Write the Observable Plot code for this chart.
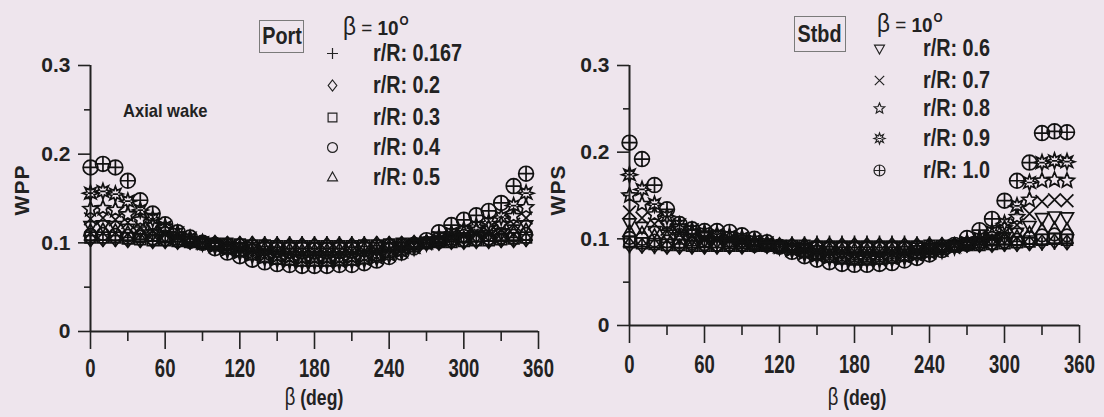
<!DOCTYPE html>
<html>
<head>
<meta charset="utf-8">
<script src="https://cdn.jsdelivr.net/npm/d3@7"></script>
<script src="https://cdn.jsdelivr.net/npm/@observablehq/plot@0.6"></script>
<style>
  body { margin: 0; background: #eee5ed; }
  #wrap { position: relative; width: 1104px; height: 417px; background: #eee5ed; overflow: hidden;
          font-family: "Liberation Sans", Arial, sans-serif; color: #222; }
  .abs { position: absolute; white-space: nowrap; line-height: 1; }
  .sq { transform-origin: left center; }
  .box { position: absolute; border: 1px solid #7a7a7a; box-sizing: border-box; display: flex;
         align-items: center; justify-content: center; font-weight: bold; font-size: 23px; }
  .box span { display: inline-block; transform: scaleX(0.86); }
</style>
</head>
<body>
<div id="wrap"></div>
<script>
// ---------------- data ----------------
const beta = [0,10,20,30,40,50,60,70,80,90,100,110,120,130,140,150,160,170,
              180,190,200,210,220,230,240,250,260,270,280,290,300,310,320,330,340,350];
const radii = ["0.167","0.2","0.3","0.4","0.5","0.6","0.7","0.8","0.9","1.0"];
const xTicks = [0,60,120,180,240,300,360];
const xMinor = [30,90,150,210,270,330];
const yTicks = [0,0.1,0.2,0.3];
const yMinor = [0.05,0.15,0.25];

// Port (WPP)
const port_r0167 = [.103,.103,.103,.103,.102,.102, .102,.101,.101,.101,.100,.100, .100,.100,.100,.100,.100,.100,
                    .100,.100,.100,.100,.100,.100, .100,.100,.100,.100,.101,.101, .101,.102,.102,.102,.103,.103];
const port_r0200 = [.104,.104,.104,.103,.103,.102, .102,.101,.101,.100,.100,.099, .099,.099,.098,.098,.098,.098,
                    .098,.098,.098,.098,.098,.099, .099,.099,.100,.100,.100,.101, .101,.102,.102,.103,.103,.104];
const port_r0300 = [.106,.106,.106,.105,.104,.103, .103,.102,.101,.100,.099,.099, .098,.097,.097,.096,.096,.096,
                    .096,.096,.096,.096,.097,.097, .098,.099,.099,.100,.101,.101, .102,.103,.103,.104,.105,.106];
const port_r0400 = [.109,.110,.109,.108,.107,.105, .104,.102,.101,.100,.099,.098, .097,.096,.095,.094,.094,.094,
                    .093,.093,.094,.094,.095,.096, .097,.098,.099,.100,.101,.102, .103,.104,.105,.106,.108,.110];
const port_r0500 = [.113,.114,.113,.111,.109,.107, .105,.103,.101,.100,.098,.097, .095,.094,.093,.092,.092,.091,
                    .091,.091,.092,.092,.093,.094, .096,.097,.099,.100,.102,.103, .105,.106,.107,.108,.111,.114];
const port_r0600 = [.119,.120,.119,.116,.113,.110, .107,.104,.102,.100,.098,.096, .094,.093,.091,.090,.089,.089,
                    .089,.089,.089,.090,.091,.092, .094,.096,.098,.100,.102,.104, .106,.107,.109,.111,.115,.120];
const port_r0700 = [.127,.128,.126,.123,.118,.114, .110,.106,.103,.100,.098,.095, .093,.091,.089,.088,.087,.086,
                    .086,.086,.086,.087,.088,.090, .092,.094,.097,.100,.103,.106, .108,.110,.112,.115,.121,.128];
const port_r0800 = [.138,.139,.137,.132,.126,.120, .114,.109,.104,.100,.097,.094, .091,.089,.087,.085,.084,.083,
                    .083,.083,.083,.084,.085,.087, .089,.092,.096,.100,.104,.108, .111,.114,.117,.121,.130,.140];
const port_r0900 = [.156,.158,.155,.147,.137,.127, .118,.111,.105,.100,.096,.092, .089,.086,.083,.081,.080,.079,
                    .079,.079,.079,.080,.081,.083, .086,.090,.095,.100,.106,.111, .115,.119,.123,.129,.142,.156];
const port_r1000 = [.185,.189,.185,.170,.148,.133, .121,.112,.106,.100,.094,.089, .085,.081,.078,.076,.075,.074,
                    .074,.074,.075,.075,.077,.080, .084,.089,.095,.103,.112,.120, .126,.131,.136,.145,.164,.178];

// Starboard (WPS)
const stbd_r0167 = [.091,.091,.090,.090,.090,.090, .090,.090,.091,.091,.092,.093, .094,.095,.095,.096,.096,.096,
                    .096,.096,.096,.096,.096,.095, .095,.094,.094,.093,.093,.093, .093,.093,.094,.094,.095,.095];
const stbd_r0200 = [.093,.092,.092,.091,.091,.091, .091,.091,.091,.091,.092,.092, .092,.093,.093,.093,.093,.093,
                    .093,.093,.093,.093,.093,.093, .093,.093,.093,.093,.093,.093, .094,.094,.095,.096,.097,.096];
const stbd_r0300 = [.096,.095,.094,.093,.093,.092, .092,.092,.092,.092,.092,.092, .092,.092,.092,.091,.091,.091,
                    .091,.091,.091,.091,.091,.091, .092,.092,.092,.093,.093,.094, .095,.096,.097,.099,.100,.099];
const stbd_r0400 = [.101,.100,.098,.097,.096,.095, .094,.093,.093,.093,.092,.092, .091,.091,.090,.090,.089,.089,
                    .089,.089,.089,.089,.089,.090, .090,.091,.092,.093,.094,.095, .097,.099,.101,.104,.105,.104];
const stbd_r0500 = [.108,.106,.103,.101,.099,.097, .096,.095,.094,.094,.093,.092, .091,.090,.089,.088,.088,.087,
                    .087,.087,.087,.087,.088,.088, .089,.090,.091,.093,.095,.097, .099,.102,.106,.110,.111,.110];
const stbd_r0600 = [.118,.114,.109,.105,.102,.100, .098,.097,.096,.095,.094,.092, .091,.089,.088,.087,.086,.085,
                    .085,.085,.085,.085,.086,.087, .088,.090,.092,.094,.096,.099, .102,.107,.115,.124,.126,.125];
const stbd_r0700 = [.131,.124,.117,.111,.106,.103, .101,.100,.099,.097,.095,.093, .091,.089,.087,.085,.084,.083,
                    .082,.082,.082,.083,.084,.085, .087,.089,.092,.095,.098,.101, .107,.116,.129,.143,.145,.144];
const stbd_r0800 = [.150,.140,.128,.118,.111,.107, .104,.103,.101,.099,.097,.094, .091,.088,.085,.083,.081,.080,
                    .079,.079,.079,.080,.081,.083, .085,.088,.091,.095,.099,.104, .112,.125,.145,.167,.168,.167];
const stbd_r0900 = [.174,.157,.140,.126,.116,.110, .107,.105,.103,.101,.098,.095, .091,.087,.083,.080,.078,.077,
                    .076,.076,.076,.077,.079,.081, .084,.087,.091,.096,.101,.108, .118,.138,.165,.188,.190,.189];
const stbd_r1000 = [.211,.192,.162,.134,.117,.111, .109,.109,.108,.104,.100,.096, .091,.085,.080,.076,.073,.071,
                    .070,.070,.071,.072,.075,.078, .082,.087,.093,.101,.110,.123, .144,.167,.188,.222,.224,.223];

const portSeries = [port_r0167,port_r0200,port_r0300,port_r0400,port_r0500,port_r0600,port_r0700,port_r0800,port_r0900,port_r1000];
const stbdSeries = [stbd_r0167,stbd_r0200,stbd_r0300,stbd_r0400,stbd_r0500,stbd_r0600,stbd_r0700,stbd_r0800,stbd_r0900,stbd_r1000];

// ---------------- symbols ----------------
const TAU = 2 * Math.PI;
const rad = s => Math.sqrt(s / Math.PI);
const symPlus = {draw(c, s) { const r = rad(s); c.moveTo(-r, 0); c.lineTo(r, 0); c.moveTo(0, -r); c.lineTo(0, r); }};
const symDiamond = {draw(c, s) { const r = rad(s); c.moveTo(0, -r); c.lineTo(r * 0.78, 0); c.lineTo(0, r); c.lineTo(-r * 0.78, 0); c.closePath(); }};
const symSquare = {draw(c, s) { const r = rad(s) * 0.8; c.moveTo(-r, -r); c.lineTo(r, -r); c.lineTo(r, r); c.lineTo(-r, r); c.closePath(); }};
const symCircle = {draw(c, s) { const r = rad(s) * 0.9; c.moveTo(r, 0); c.arc(0, 0, r, 0, TAU); }};
const symTriUp = {draw(c, s) { const r = rad(s); c.moveTo(0, -r); c.lineTo(r * 0.9, r * 0.6); c.lineTo(-r * 0.9, r * 0.6); c.closePath(); }};
const symTriDown = {draw(c, s) { const r = rad(s); c.moveTo(0, r); c.lineTo(r * 0.9, -r * 0.6); c.lineTo(-r * 0.9, -r * 0.6); c.closePath(); }};
const symTimes = {draw(c, s) { const r = rad(s) * 0.85; c.moveTo(-r, -r); c.lineTo(r, r); c.moveTo(r, -r); c.lineTo(-r, r); }};
const symStar5 = {draw(c, s) { const R = rad(s), ri = R * 0.45;
  for (let i = 0; i < 10; i++) { const a = -Math.PI / 2 + i * Math.PI / 5, rr = i % 2 ? ri : R;
    const x = rr * Math.cos(a), y = rr * Math.sin(a); if (i) c.lineTo(x, y); else c.moveTo(x, y); } c.closePath(); }};
const symStar8 = {draw(c, s) { const R = rad(s), ri = R * 0.5;
  for (let i = 0; i < 16; i++) { const a = -Math.PI / 2 + i * Math.PI / 8, rr = i % 2 ? ri : R;
    const x = rr * Math.cos(a), y = rr * Math.sin(a); if (i) c.lineTo(x, y); else c.moveTo(x, y); } c.closePath();
  c.moveTo(-ri * 0.7, 0); c.lineTo(ri * 0.7, 0); }};
const symOPlus = {draw(c, s) { const r = rad(s); c.moveTo(r, 0); c.arc(0, 0, r, 0, TAU);
  c.moveTo(-r, 0); c.lineTo(r, 0); c.moveTo(0, -r); c.lineTo(0, r); }};

const symbols = [symPlus, symDiamond, symSquare, symCircle, symTriUp, symTriDown, symTimes, symStar5, symStar8, symOPlus];
const symR    = [6.8, 7.2, 6.8, 7, 7.2, 7.2, 7.5, 7.8, 7.8, 7.4];

const ink = "#222";
const wrap = document.getElementById("wrap");

// horizontally condense tick labels about their own centre (element must be in the DOM)
function squeeze(svg, sx) {
  svg.querySelectorAll('g[aria-label="x-axis tick label"] text').forEach(t => {
    const bb = t.getBBox();
    const cx = bb.x + bb.width / 2;
    const tr = t.getAttribute("transform") || "";
    t.setAttribute("transform", `${tr} translate(${cx},0) scale(${sx},1) translate(${-cx},0)`);
  });
}

function panel(series, o) {
  const marks = [];
  marks.push(Plot.ruleX([0], {y1: 0, y2: 0.3, stroke: ink, strokeWidth: 2}));
  marks.push(Plot.ruleY([0], {x1: 0, x2: 360, stroke: ink, strokeWidth: 2}));
  marks.push(Plot.axisY({ticks: yTicks, tickSize: 12, tickPadding: 8, tickFormat: d => d === 0 ? "0" : d.toFixed(1),
    fontSize: 21, fontWeight: "bold", color: ink, strokeWidth: 1.6, label: null}));
  marks.push(Plot.axisY({ticks: yMinor, tickSize: 6, tickFormat: () => "", color: ink, strokeWidth: 1.6, label: null}));
  marks.push(Plot.axisX({ticks: xTicks, tickSize: 18, tickPadding: o.xPad, tickFormat: d => String(d),
    fontSize: 25, fontWeight: "bold", color: ink, strokeWidth: 1.6, label: null}));
  marks.push(Plot.axisX({ticks: xMinor, tickSize: 10, tickFormat: () => "", color: ink, strokeWidth: 1.6, label: null}));
  series.forEach((vals, k) => {
    marks.push(Plot.dot(beta.map((b, i) => ({b, w: vals[i]})), {
      x: "b", y: "w", symbol: symbols[k], r: symR[k], stroke: "#111", strokeWidth: 1.7, fill: "none"
    }));
  });
  const svg = Plot.plot({
    width: o.width, height: 417,
    marginLeft: o.ml, marginRight: o.mr, marginTop: 65, marginBottom: o.mb,
    x: {domain: [0, 360], label: null},
    y: {domain: [0, 0.3], label: null},
    style: {background: "transparent", overflow: "visible", color: ink,
            fontFamily: '"Liberation Sans", Arial, sans-serif', fontWeight: "bold"},
    marks
  });
  const holder = document.createElement("div");
  holder.className = "abs";
  holder.style.left = o.left + "px"; holder.style.top = "0px";
  holder.appendChild(svg);
  wrap.appendChild(holder);
  squeeze(svg, 0.74);
}

panel(portSeries, {left: 0, width: 560, ml: 90, mr: 22, mb: 86, xPad: 10});
panel(stbdSeries, {left: 545, width: 559, ml: 84, mr: 25, mb: 92, xPad: 12});

// ---------------- text overlays ----------------
function addText(html, css, cls) {
  const d = document.createElement("div");
  d.className = "abs " + (cls || "");
  d.innerHTML = html;
  Object.assign(d.style, css);
  wrap.appendChild(d);
  return d;
}
function symSvg(sym, r, cx, cy) {
  const size = 2 * r + 6;
  const svg = d3.create("svg").attr("width", size).attr("height", size)
    .attr("viewBox", `${-size / 2} ${-size / 2} ${size} ${size}`)
    .style("position", "absolute").style("left", (cx - size / 2) + "px").style("top", (cy - size / 2) + "px")
    .style("overflow", "visible");
  svg.append("path").attr("d", d3.symbol(sym, Math.PI * r * r)()).attr("fill", "none")
    .attr("stroke", ink).attr("stroke-width", 1.2);
  wrap.appendChild(svg.node());
}

// axis titles
addText("WPP", {left: "21px", top: "190px", fontSize: "21px", fontWeight: "bold", letterSpacing: "1px",
  transform: "translate(-50%,-50%) rotate(-90deg)"});
addText("WPS", {left: "557px", top: "190px", fontSize: "21px", fontWeight: "bold", letterSpacing: "1px",
  transform: "translate(-50%,-50%) rotate(-90deg)"});
addText('<span style="font-weight:normal;font-size:23px">β</span> (deg)', {left: "314px", top: "397px", fontSize: "22px",
  fontWeight: "bold", transform: "translate(-50%,-50%) scaleX(0.8)"});
addText('<span style="font-weight:normal;font-size:23px">β</span> (deg)', {left: "857px", top: "397px", fontSize: "22px",
  fontWeight: "bold", transform: "translate(-50%,-50%) scaleX(0.8)"});

addText("Axial wake", {left: "123px", top: "101px", fontSize: "19px", fontWeight: "bold", transform: "scaleX(0.87)"}, "sq");

// legends
function legend(o) {
  const b = document.createElement("div");
  b.className = "box";
  Object.assign(b.style, {left: o.bx + "px", top: o.by + "px", width: o.bw + "px", height: o.bh + "px"});
  b.innerHTML = `<span>${o.title}</span>`;
  wrap.appendChild(b);
  addText('<span style="font-size:25px">β</span> = <b style="font-size:21px">10</b><b style="font-size:13px;position:relative;top:-10px;margin-left:1px">O</b>',
    {left: o.betaX + "px", top: o.betaY + "px", fontSize: "21px", transform: "scaleX(0.9)"}, "sq");
  o.rows.forEach((k, i) => {
    const cy = o.ys[i];
    symSvg(symbols[k], 5.5, o.sx, cy);
    addText("r/R: " + radii[k], {left: o.tx + "px", top: cy + "px", fontSize: "23px", fontWeight: "bold",
      transform: "translateY(-50%) scaleX(0.86)"}, "sq");
  });
}
legend({title: "Port", bx: 259, by: 20, bw: 45, bh: 33, betaX: 343, betaY: 14,
        sx: 332, tx: 373, ys: [53, 85, 117, 147, 177], rows: [0, 1, 2, 3, 4]});
legend({title: "Stbd", bx: 794, by: 16, bw: 52, bh: 36, betaX: 877, betaY: 11,
        sx: 879, tx: 923, ys: [48, 80, 108, 138, 170], rows: [5, 6, 7, 8, 9]});
</script>
</body>
</html>
